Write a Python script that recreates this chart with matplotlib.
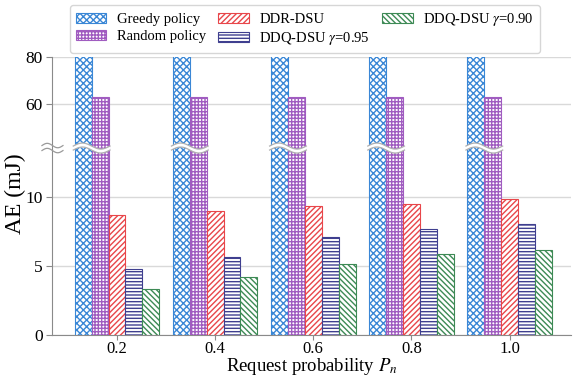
import numpy as np
import matplotlib.pyplot as plt
from matplotlib.patches import Patch, Polygon
from matplotlib.transforms import blended_transform_factory

plt.rcParams['font.family'] = 'Liberation Serif'
plt.rcParams['mathtext.fontset'] = 'stix'
plt.rcParams['hatch.linewidth'] = 1.0

probs = [0.2, 0.4, 0.6, 0.8, 1.0]
tick_labels = ['0.2', '0.4', '0.6', '0.8', '1.0']
greedy = [95.0, 95.0, 95.0, 95.0, 95.0]
random_policy = [62.8, 62.8, 62.8, 62.8, 62.8]
ddr_dsu = [8.69, 8.93, 9.31, 9.43, 9.82]
ddq_095 = [4.74, 5.65, 7.05, 7.65, 8.04]
ddq_090 = [3.32, 4.21, 5.13, 5.83, 6.11]

series = [
    ('Greedy policy', greedy, '#3a87d6', 'xxxxx'),
    ('Random policy', random_policy, '#a05cc0', '+++++'),
    ('DDR-DSU', ddr_dsu, '#e8464a', '//////'),
    (r'DDQ-DSU $\gamma$=0.95', ddq_095, '#3f3f8f', '-----'),
    (r'DDQ-DSU $\gamma$=0.90', ddq_090, '#3d8a55', '\\\\\\\\\\\\'),
]

width = 0.0344
spine_color = '#8a8a8a'
grid_color = '#d9d9d9'

fig = plt.figure(figsize=(5.73, 3.77), dpi=100)
left, right = 0.0907, 0.9965
bottom, brk, top = 0.1114, 0.602, 0.8496
ax_top = fig.add_axes([left, brk, right - left, top - brk])
ax_bot = fig.add_axes([left, bottom, right - left, brk - bottom], sharex=ax_top)

x = np.array(probs)
for ax in (ax_top, ax_bot):
    for i, (name, vals, color, hatch) in enumerate(series):
        ax.bar(x + (i - 2) * width, vals, width, facecolor='white',
               edgecolor=color, hatch=hatch, linewidth=0.8, label=name, zorder=3)
    ax.set_axisbelow(True)
    ax.grid(axis='y', color=grid_color, linewidth=1.0, zorder=0)
    for side in ('top', 'right'):
        ax.spines[side].set_visible(False)
    for side in ('left', 'bottom'):
        ax.spines[side].set_color(spine_color)
    ax.tick_params(colors=spine_color, labelcolor='black', labelsize=12.5,
                   length=4, width=0.8, pad=2.5)

ax_top.set_ylim(40, 80.15)
ax_top.set_yticks([60, 80])
ax_top.spines['bottom'].set_visible(False)
ax_top.tick_params(axis='x', bottom=False, labelbottom=False)

ax_bot.set_ylim(0, 13.36)
ax_bot.set_yticks([0, 5, 10])
ax_bot.set_xlim(0.0676, 1.125)
ax_bot.set_xticks(probs)
ax_bot.set_xticklabels(tick_labels)
ax_bot.tick_params(axis='x', length=3.5, pad=0.5, labelsize=12)

fig.text((left + right) / 2, 0.017, r'Request probability $P_n$', fontsize=13.5,
         ha='center', va='baseline')
fig.text(0.027, 0.485, 'AE (mJ)', rotation=90, fontsize=17,
         ha='center', va='center')

# wavy white bands marking the broken axis across the tall bars
px = 1.0 / 377
band_y = brk + 2 * px
amp = 3 * px
half = 2 * px
t = np.linspace(0, 1, 60)
trans = blended_transform_factory(ax_bot.transData, fig.transFigure)
for xc in probs:
    x0 = xc - 2.5 * width - 0.003
    x1 = xc - 0.5 * width + 0.003
    xs = x0 + (x1 - x0) * t
    wave = band_y + amp * np.sin(2 * np.pi * t)
    upper = wave + half
    lower = wave - half
    pts = np.column_stack([np.r_[xs, xs[::-1]], np.r_[upper, lower[::-1]]])
    fig.add_artist(Polygon(pts, closed=True, facecolor='white', edgecolor='none',
                           transform=trans, zorder=10))
    for yy in (upper, lower):
        fig.add_artist(plt.Line2D(xs, yy, color='#b0b0b0', linewidth=0.9,
                                  transform=trans, zorder=11))

# break symbol on the left spine
sx = np.linspace(left - 10.0 / 573, left + 11.0 / 573, 40)
st = np.linspace(0, 1, 40)
for off in (-2.5 * px, 2.5 * px):
    sy = band_y + off + 2.2 * px * np.sin(2 * np.pi * st)
    fig.add_artist(plt.Line2D(sx, sy, color='#9a9a9a', linewidth=0.9,
                              transform=fig.transFigure, zorder=11))

handles = [Patch(facecolor='white', edgecolor=c, hatch=h, linewidth=0.8, label=n)
           for n, _, c, h in series]
fig.legend(handles=handles, ncol=3, loc='upper center',
           bbox_to_anchor=(0.532, 0.987), fontsize=10.5, frameon=True,
           edgecolor='#cccccc', fancybox=True, handlelength=2.1,
           columnspacing=0.8, handletextpad=0.75, borderpad=0.4,
           labelspacing=0.3, borderaxespad=0)

fig.savefig('out.png', dpi=100)
